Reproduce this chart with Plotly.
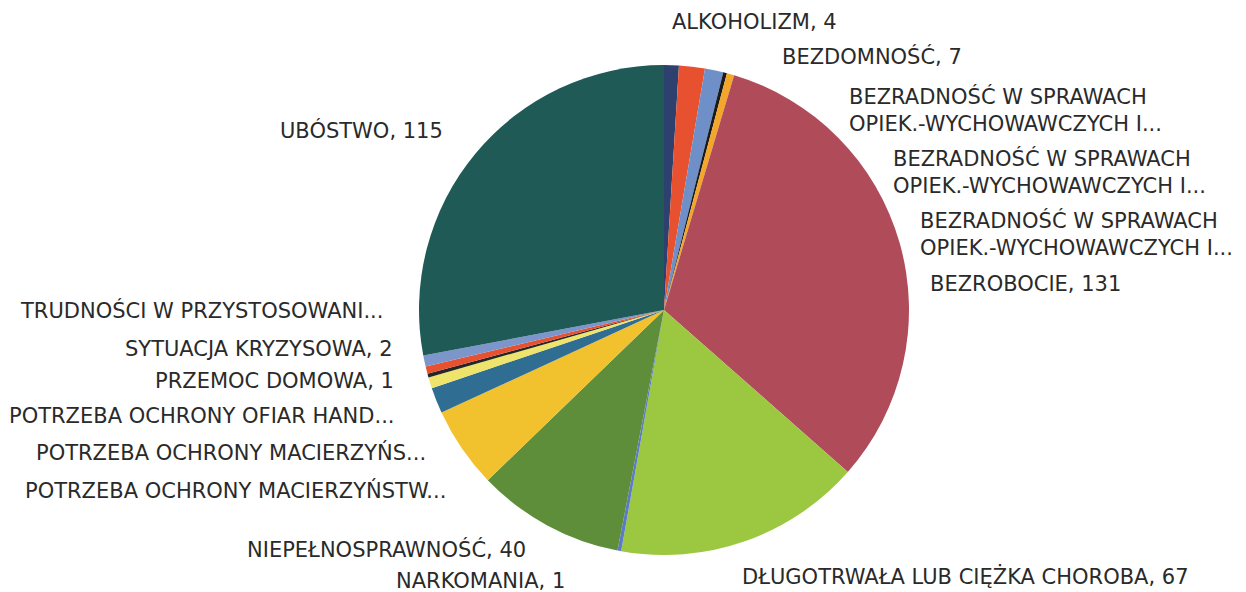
import plotly.graph_objects as go

# ---- data (clockwise from 12 o'clock) ----
categories = [
    "ALKOHOLIZM",
    "BEZDOMNOŚĆ",
    "BEZRADNOŚĆ W SPRAWACH<br>OPIEK.-WYCHOWAWCZYCH I...",
    "BEZRADNOŚĆ W SPRAWACH<br>OPIEK.-WYCHOWAWCZYCH I...",
    "BEZRADNOŚĆ W SPRAWACH<br>OPIEK.-WYCHOWAWCZYCH I...",
    "BEZROBOCIE",
    "DŁUGOTRWAŁA LUB CIĘŻKA CHOROBA",
    "NARKOMANIA",
    "NIEPEŁNOSPRAWNOŚĆ",
    "POTRZEBA OCHRONY MACIERZYŃSTW...",
    "POTRZEBA OCHRONY MACIERZYŃS...",
    "POTRZEBA OCHRONY OFIAR HAND...",
    "PRZEMOC DOMOWA",
    "SYTUACJA KRYZYSOWA",
    "TRUDNOŚCI W PRZYSTOSOWANI...",
    "UBÓSTWO",
]
values = [4, 7, 5, 1, 2, 131, 67, 1, 40, 22, 7, 3, 1, 2, 3, 115]
show_value = [True, True, False, False, False, True, True, True, True,
              False, False, False, True, True, False, True]
colors = [
    "#2E416E", "#E8512F", "#6E8FC8", "#1A1A1A", "#F4A62A", "#B04B59",
    "#9CC740", "#5B7BC6", "#5F8E3B", "#F2C22E", "#2F6D93", "#EEE46C",
    "#262626", "#E8512F", "#7C95CA", "#1F5A56",
]

# label placement (pixel anchor x, pixel centre y, anchor side)
label_pos = [
    (670, 22, "left"), (780, 57, "left"), (847, 110, "left"),
    (891, 172, "left"), (918, 234, "left"), (928, 284, "left"),
    (740, 576, "left"), (567, 581, "right"), (528, 549, "right"),
    (448, 490, "right"), (428, 452, "right"), (397, 416, "right"),
    (396, 381, "right"), (395, 349, "right"), (385, 310, "right"),
    (445, 130, "right"),
]

W, H = 1246, 592
CX, CY, R = 664, 310, 245

fig = go.Figure(go.Pie(
    labels=[str(i) for i in range(len(categories))],
    values=values,
    hovertext=[c.replace("<br>", " ") for c in categories],
    hoverinfo="text+value",
    sort=False,
    direction="clockwise",
    rotation=0,
    marker=dict(colors=colors, line=dict(width=0)),
    textinfo="none",
    showlegend=False,
    domain=dict(x=[(CX - R) / W, (CX + R) / W], y=[1 - (CY + R) / H, 1 - (CY - R) / H]),
))

annotations = []
for cat, val, sv, (px, py, side) in zip(categories, values, show_value, label_pos):
    text = f"{cat}, {val}" if sv else cat
    annotations.append(dict(
        x=px / W, y=1 - py / H, xref="paper", yref="paper",
        text=text, showarrow=False, xanchor=side, yanchor="middle",
        align="left", font=dict(family="DejaVu Sans", size=21, color="#2a2a2a"),
    ))

fig.update_layout(
    width=W, height=H,
    margin=dict(l=0, r=0, t=0, b=0),
    paper_bgcolor="white", plot_bgcolor="white",
    annotations=annotations,
)
fig.write_html(
    "out.html",
    config={"displayModeBar": False},
    post_script="document.body.style.margin='0';document.body.style.overflow='hidden';",
)
